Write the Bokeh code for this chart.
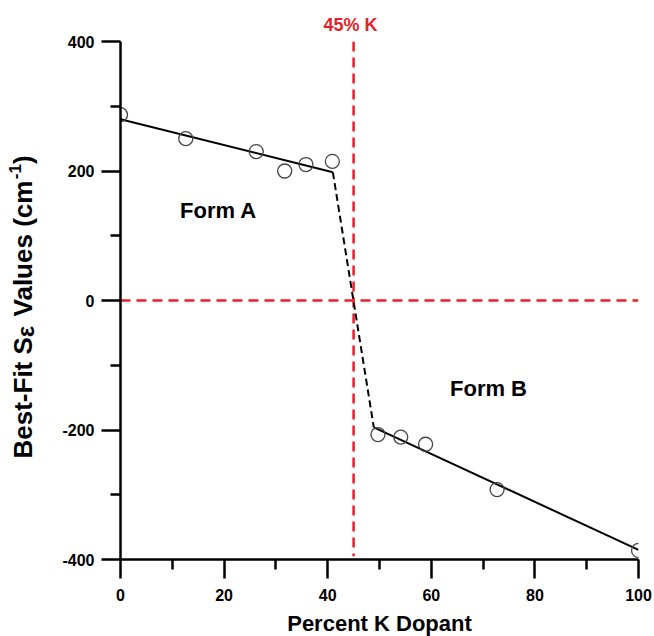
import math
from bokeh.plotting import figure
from bokeh.models import FixedTicker, Label, Range1d, Title
from bokeh.layouts import row
from bokeh.embed import file_html
from bokeh.resources import INLINE

# data
form_a_x = [0, 12.6, 26.2, 31.7, 35.8, 40.9]
form_a_y = [287, 250, 230, 200, 210, 215]
form_b_x = [49.7, 54.1, 58.9, 72.7, 100]
form_b_y = [-207, -211, -222, -292, -386]
fit_a_x = [0, 41]
fit_a_y = [280, 198]
trans_x = [41, 48.9]
trans_y = [198, -196]
fit_b_x = [48.9, 100]
fit_b_y = [-196, -385]
vline_x = [45, 45]
vline_y = [400, -395]
hline_x = [0, 100]
hline_y = [0, 0]
x_major = [0, 20, 40, 60, 80, 100]
x_minor = [10, 30, 50, 70, 90]
y_major = [-400, -200, 0, 200, 400]
y_minor = [-300, -100, 100, 300]
y_label_parts = ["Best-Fit S", "\u03b5", "Values (cm", "-1", ")"]

FONT = "Liberation Sans"
RED = "#e3232c"

W, H = 654, 636
LW = 44  # width of the strip holding the y-axis title
X0, X1, Y0, Y1 = 0, 100, -400, 400
FL, FT, FW, FH = 120, 41, 518, 518  # frame geometry in page px

p = figure(frame_width=FW, frame_height=FH, output_backend="svg", toolbar_location=None,
           x_range=Range1d(X0, X1), y_range=Range1d(Y0, Y1),
           min_border_left=FL - LW, min_border_top=FT, min_border_right=W - FL - FW,
           min_border_bottom=H - FT - FH)
p.outline_line_color = None
p.xgrid.visible = False
p.ygrid.visible = False


def px_to_x(px):
    return X0 + (px - FL) / FW * (X1 - X0)


def py_to_y(py):
    return Y1 - (py - FT) / FH * (Y1 - Y0)


for ax in (p.xaxis[0], p.yaxis[0]):
    ax.axis_line_width = 2.5
    ax.major_tick_line_width = 2.5
    ax.minor_tick_line_width = 2.5
    ax.major_tick_out = 19
    ax.major_tick_in = 0
    ax.minor_tick_out = 10
    ax.minor_tick_in = 0
    ax.major_label_text_font = FONT
    ax.major_label_text_font_style = "bold"
    ax.major_label_text_font_size = "16px"
    ax.major_label_text_color = "black"
    ax.axis_label_text_font = FONT
    ax.axis_label_text_font_style = "bold"
    ax.axis_label_text_font_size = "22px"
    ax.axis_label_text_color = "black"

p.xaxis.ticker = FixedTicker(ticks=x_major, minor_ticks=x_minor)
p.yaxis.ticker = FixedTicker(ticks=y_major, minor_ticks=y_minor)
p.yaxis.major_label_overrides = {t: str(t) for t in y_major}
p.xaxis.axis_label = "Percent K Dopant"
p.xaxis.major_label_standoff = 10
p.yaxis.major_label_standoff = 7
p.xaxis.axis_label_standoff = 7

# red reference lines
p.line(vline_x, vline_y, line_color=RED, line_width=2.5, line_dash="10 6")
p.line(hline_x, hline_y, line_color=RED, line_width=2.5, line_dash="10 6")

# fits
p.line(fit_a_x, fit_a_y, line_color="black", line_width=2)
p.line(trans_x, trans_y, line_color="black", line_width=2, line_dash="7 4")
p.line(fit_b_x, fit_b_y, line_color="black", line_width=2)

# points
p.scatter(form_a_x, form_a_y, size=14, fill_color=None, line_color="#444444", line_width=1.3)
p.scatter(form_b_x, form_b_y, size=14, fill_color=None, line_color="#444444", line_width=1.3)

p.add_layout(Label(x=px_to_x(218), y=py_to_y(210), text="Form A", text_font=FONT,
                   text_font_style="bold", text_font_size="22px", text_align="center",
                   text_baseline="middle", text_color="black"))
p.add_layout(Label(x=px_to_x(488), y=py_to_y(388), text="Form B", text_font=FONT,
                   text_font_style="bold", text_font_size="22px", text_align="center",
                   text_baseline="middle", text_color="black"))

# "45% K" above the frame, centred on x = 45
p.add_layout(Title(text="45% K", align="left", offset=323 - FL,
                   text_font=FONT, text_font_style="bold", text_font_size="18px",
                   text_color=RED, standoff=13), "above")

# strip on the left holding the y-axis title (page-pixel coordinates, y down)
lab = figure(title=None, frame_width=LW, frame_height=H, output_backend="svg",
             toolbar_location=None, x_range=Range1d(0, LW), y_range=Range1d(H, 0),
             x_axis_location=None, y_axis_location=None,
             min_border=0, min_border_left=0, min_border_right=0,
             min_border_top=0, min_border_bottom=0)
lab.outline_line_color = None
lab.xgrid.visible = False
lab.ygrid.visible = False

SHIFT_X, SHIFT_Y = -10, -40  # measured offset of rotated labels in the strip
sizes = [26, 24, 26, 17, 26]
baselines = [32, 35, 32, 24, 32]
advance_px = [4.667 * 26, 0.56 * 24 + 0.278 * 26, 5.28 * 26, 0.889 * 17, 0.333 * 26]
py = 457.0
for part, fs, bx, adv in zip(y_label_parts, sizes, baselines, advance_px):
    lab.add_layout(Label(x=bx + SHIFT_X, y=py + SHIFT_Y, text=part, angle=math.pi / 2,
                         text_font=FONT, text_font_style="bold", text_font_size=f"{fs}px",
                         text_align="left", text_baseline="alphabetic", text_color="black"))
    py -= adv

layout = row(lab, p)
open("out.html", "w").write(file_html(layout, INLINE))
